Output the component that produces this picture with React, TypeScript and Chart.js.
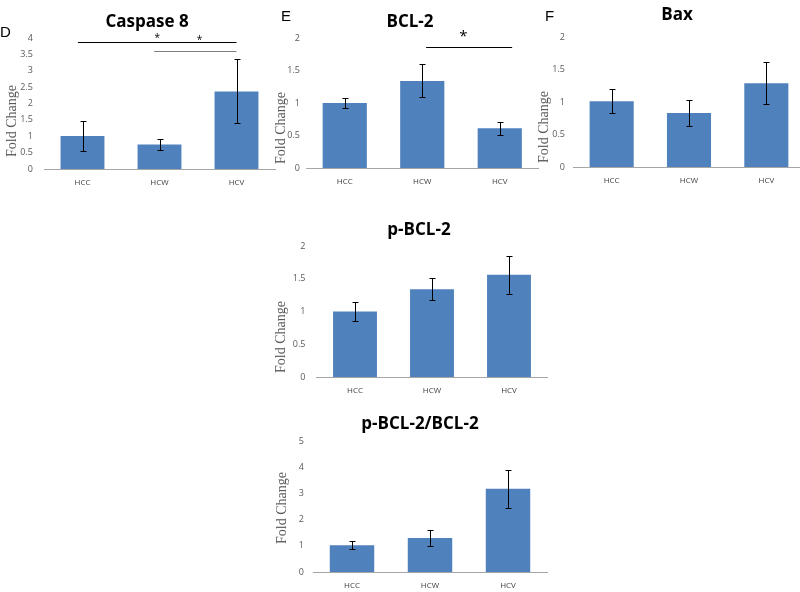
import React, { useEffect, useRef } from "react";
import { Chart, registerables } from "chart.js";

Chart.register(...registerables);

// ---------------- data ----------------
const categories = ["HCC", "HCW", "HCV"];

const caspase8Values = [1.01, 0.75, 2.37];
const caspase8Errors = [0.47, 0.17, 0.98];

const bcl2Values = [1.0, 1.34, 0.61];
const bcl2Errors = [0.075, 0.255, 0.095];

const baxValues = [1.01, 0.83, 1.29];
const baxErrors = [0.185, 0.2, 0.32];

const pBcl2Values = [1.0, 1.34, 1.56];
const pBcl2Errors = [0.145, 0.17, 0.29];

const ratioValues = [1.02, 1.3, 3.18];
const ratioErrors = [0.145, 0.3, 0.73];

// y-axis ranges (max, step)
const caspase8Axis = [4, 0.5];
const bcl2Axis = [2, 0.5];
const baxAxis = [2, 0.5];
const pBcl2Axis = [2, 0.5];
const ratioAxis = [5, 1];

// significance brackets: [fromCategory, toCategory, yValue, colour]
const caspase8Brackets: [number, number, number, string][] = [
  [-0.06, 2.0, 3.87, "#000000"],
  [0.93, 2.0, 3.61, "#7f7f7f"],
];
// stars: [categoryPosition, yValue, fontSize]
const caspase8Stars: [number, number, number][] = [
  [0.97, 4.09, 10],
  [1.52, 4.01, 10],
];
const bcl2Brackets: [number, number, number, string][] = [[1.05, 2.16, 1.857, "#000000"]];
const bcl2Stars: [number, number, number][] = [[1.53, 2.09, 15]];

const yAxisTitle = "Fold Change";

// ---------------- styling / layout ----------------
const BAR_COLOR = "#4F81BD";
const Y_AXIS_W = 34;
const X_AXIS_H = 22;

type Geo = { x: number; y: number; w: number; h: number; clipW?: number };
type Plot = { l: number; t: number; r: number; b: number };

interface PanelSpec {
  title: string;
  titleX: number;
  titleTop: number;
  letter?: string;
  letterX?: number;
  letterTop?: number;
  axisLabelX: number;
  axisLabelY: number;
  canvas: Geo;
  plot: Plot;
  values: number[];
  errors: number[];
  axis: number[];
  tickPad: number;
  brackets?: [number, number, number, string][];
  stars?: [number, number, number][];
}

const errorBarPlugin = {
  id: "errorBars",
  afterDatasetsDraw(chart: any, _args: any, opts: any) {
    const errs: number[] = opts.errors || [];
    const meta = chart.getDatasetMeta(0);
    const yScale = chart.scales.y;
    const ctx = chart.ctx;
    const vals = chart.data.datasets[0].data as number[];
    const cap = 3;
    ctx.save();
    ctx.strokeStyle = "#000000";
    ctx.lineWidth = 1;
    meta.data.forEach((el: any, i: number) => {
      const v = vals[i];
      const e = errs[i] || 0;
      const x = Math.round(el.x) + 0.5;
      const yt = Math.round(yScale.getPixelForValue(v + e)) + 0.5;
      const yb = Math.round(yScale.getPixelForValue(v - e)) + 0.5;
      ctx.beginPath();
      ctx.moveTo(x, yt);
      ctx.lineTo(x, yb);
      ctx.moveTo(x - cap, yt);
      ctx.lineTo(x + cap, yt);
      ctx.moveTo(x - cap, yb);
      ctx.lineTo(x + cap, yb);
      ctx.stroke();
    });
    ctx.restore();
  },
};

const sigPlugin = {
  id: "sigMarks",
  afterDraw(chart: any, _args: any, opts: any) {
    const brackets: [number, number, number, string][] = opts.brackets || [];
    const stars: [number, number, number][] = opts.stars || [];
    const xs = chart.scales.x;
    const ys = chart.scales.y;
    const ctx = chart.ctx;
    ctx.save();
    ctx.lineWidth = 1;
    brackets.forEach(([a, b, yv, col]) => {
      const y = Math.round(ys.getPixelForValue(yv)) + 0.5;
      ctx.strokeStyle = col;
      ctx.beginPath();
      ctx.moveTo(xs.getPixelForValue(a), y);
      ctx.lineTo(xs.getPixelForValue(b), y);
      ctx.stroke();
    });
    ctx.fillStyle = "#000000";
    ctx.textAlign = "center";
    ctx.textBaseline = "alphabetic";
    stars.forEach(([c, yv, size]) => {
      ctx.font = `${size}px "Open Sans", sans-serif`;
      const x = xs.getPixelForValue(c);
      const y = ys.getPixelForValue(yv) + size * 0.56;
      ctx.fillText("*", x, y);
    });
    ctx.restore();
  },
};

function BarPanel({ spec }: { spec: PanelSpec }) {
  const ref = useRef<HTMLCanvasElement | null>(null);
  useEffect(() => {
    if (!ref.current) return;
    const { canvas: cv, plot } = spec;
    const padding = {
      left: plot.l - cv.x - Y_AXIS_W,
      top: plot.t - cv.y,
      right: cv.x + cv.w - plot.r,
      bottom: cv.y + cv.h - plot.b - X_AXIS_H,
    };
    const chart = new Chart(ref.current, {
      type: "bar",
      data: {
        labels: categories,
        datasets: [
          {
            data: spec.values,
            backgroundColor: BAR_COLOR,
            borderWidth: 0,
            barPercentage: 0.57,
            categoryPercentage: 1,
          },
        ],
      },
      options: {
        responsive: false,
        animation: false,
        devicePixelRatio: 1,
        layout: { padding },
        plugins: {
          legend: { display: false },
          title: { display: false },
          tooltip: { enabled: false },
          errorBars: { errors: spec.errors },
          sigMarks: { brackets: spec.brackets || [], stars: spec.stars || [] },
        } as any,
        scales: {
          x: {
            grid: { display: false, drawTicks: false },
            border: { display: true, color: "#a6a6a6", width: 1 },
            ticks: {
              color: "#404040",
              font: { family: "'Open Sans', sans-serif", size: 8 },
              padding: 9,
              maxRotation: 0,
            },
            afterFit: (s: any) => {
              s.height = X_AXIS_H;
            },
          },
          y: {
            min: 0,
            max: spec.axis[0],
            grid: { display: false, drawTicks: false },
            border: { display: false },
            ticks: {
              stepSize: spec.axis[1],
              color: "#595959",
              font: { family: "'Open Sans', sans-serif", size: 9 },
              padding: spec.tickPad,
              callback: (v: any) => String(Number(v)),
            },
            afterFit: (s: any) => {
              s.width = Y_AXIS_W;
            },
          },
        },
      } as any,
      plugins: [errorBarPlugin, sigPlugin],
    });
    return () => chart.destroy();
  }, [spec]);

  const cv = spec.canvas;
  return (
    <>
      <div
        style={{
          position: "absolute",
          left: cv.x,
          top: cv.y,
          width: cv.clipW ?? cv.w,
          height: cv.h,
          overflow: "hidden",
        }}
      >
        <canvas ref={ref} width={cv.w} height={cv.h} style={{ display: "block" }} />
      </div>
      <div
        style={{
          position: "absolute",
          left: spec.titleX,
          top: spec.titleTop,
          transform: "translateX(-50%)",
          fontFamily: "'Open Sans', sans-serif",
          fontWeight: 700,
          fontSize: 17,
          lineHeight: "17px",
          whiteSpace: "nowrap",
          color: "#000",
        }}
      >
        {spec.title}
      </div>
      {spec.letter ? (
        <div
          style={{
            position: "absolute",
            left: spec.letterX,
            top: spec.letterTop,
            fontFamily: "'Liberation Sans', Arial, sans-serif",
            fontSize: 15,
            lineHeight: "15px",
            color: "#000",
          }}
        >
          {spec.letter}
        </div>
      ) : null}
      <div
        style={{
          position: "absolute",
          left: spec.axisLabelX,
          top: spec.axisLabelY,
          width: 90,
          height: 16,
          marginLeft: -45,
          marginTop: -8,
          transform: "rotate(-90deg)",
          textAlign: "center",
          fontFamily: "'Liberation Serif', serif",
          fontWeight: 400,
          fontSize: 14,
          lineHeight: "16px",
          whiteSpace: "nowrap",
          color: "#595959",
        }}
      >
        {yAxisTitle}
      </div>
    </>
  );
}

const panels: PanelSpec[] = [
  {
    title: "Caspase 8",
    titleX: 147,
    titleTop: 12,
    letter: "D",
    letterX: 0,
    letterTop: 24,
    axisLabelX: 12,
    axisLabelY: 121,
    canvas: { x: 0, y: 0, w: 280, h: 195 },
    plot: { l: 44, t: 38, r: 275, b: 169 },
    values: caspase8Values,
    errors: caspase8Errors,
    axis: caspase8Axis,
    tickPad: 11,
    brackets: caspase8Brackets,
    stars: caspase8Stars,
  },
  {
    title: "BCL-2",
    titleX: 410,
    titleTop: 12,
    letter: "E",
    letterX: 281,
    letterTop: 8,
    axisLabelX: 281,
    axisLabelY: 128,
    canvas: { x: 270, y: 0, w: 272, h: 195 },
    plot: { l: 306, t: 38, r: 538.5, b: 168 },
    values: bcl2Values,
    errors: bcl2Errors,
    axis: bcl2Axis,
    tickPad: 6,
    brackets: bcl2Brackets,
    stars: bcl2Stars,
  },
  {
    title: "Bax",
    titleX: 677,
    titleTop: 5,
    letter: "F",
    letterX: 545,
    letterTop: 8,
    axisLabelX: 544,
    axisLabelY: 127,
    canvas: { x: 535, y: 0, w: 275, h: 195, clipW: 265 },
    plot: { l: 573, t: 37, r: 805, b: 167 },
    values: baxValues,
    errors: baxErrors,
    axis: baxAxis,
    tickPad: 8,
  },
  {
    title: "p-BCL-2",
    titleX: 419,
    titleTop: 220,
    axisLabelX: 281,
    axisLabelY: 337,
    canvas: { x: 270, y: 200, w: 282, h: 195 },
    plot: { l: 316.5, t: 246, r: 547.5, b: 377 },
    values: pBcl2Values,
    errors: pBcl2Errors,
    axis: pBcl2Axis,
    tickPad: 11,
  },
  {
    title: "p-BCL-2/BCL-2",
    titleX: 420,
    titleTop: 414,
    axisLabelX: 282,
    axisLabelY: 508,
    canvas: { x: 270, y: 396, w: 282, h: 196 },
    plot: { l: 313, t: 441, r: 547, b: 572 },
    values: ratioValues,
    errors: ratioErrors,
    axis: ratioAxis,
    tickPad: 9,
  },
];

export default function App() {
  return (
    <div
      style={{
        position: "fixed",
        left: 0,
        top: 0,
        width: 800,
        height: 592,
        background: "#ffffff",
        overflow: "hidden",
      }}
    >
      {panels.map((p) => (
        <BarPanel key={p.title} spec={p} />
      ))}
    </div>
  );
}
